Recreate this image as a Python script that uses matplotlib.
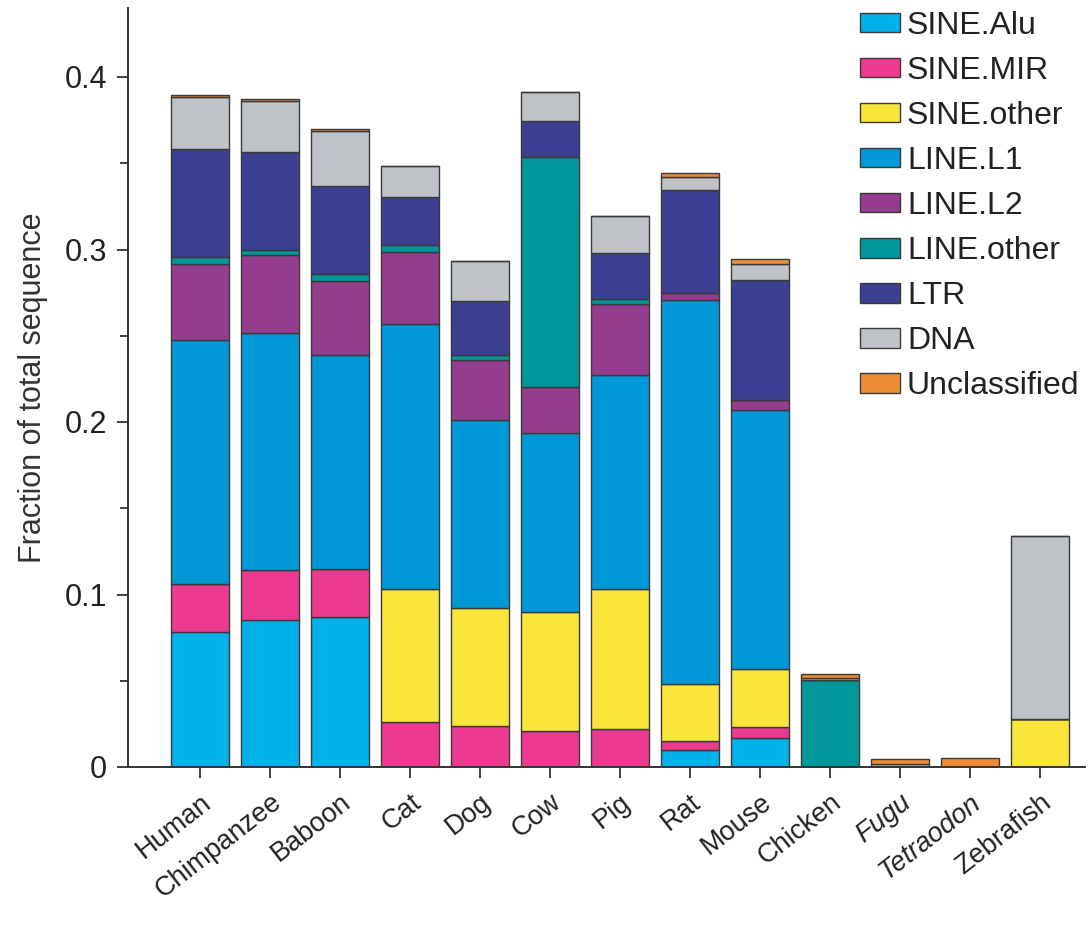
import matplotlib
matplotlib.use("Agg")
import matplotlib.pyplot as plt
from matplotlib.ticker import MultipleLocator
import numpy as np

plt.rcParams['font.family'] = ['Liberation Sans', 'DejaVu Sans']

# Species and repeat classes
species = ['Human', 'Chimpanzee', 'Baboon', 'Cat', 'Dog', 'Cow', 'Pig', 'Rat',
           'Mouse', 'Chicken', 'Fugu', 'Tetraodon', 'Zebrafish']
italic_species = ['Fugu', 'Tetraodon']

classes = ['SINE.Alu', 'SINE.MIR', 'SINE.other', 'LINE.L1', 'LINE.L2',
           'LINE.other', 'LTR', 'DNA', 'Unclassified']

# fraction of total sequence, one list per repeat class (order = species)
sine_alu   = [0.078, 0.085, 0.087, 0.0,   0.0,   0.0,   0.0,   0.010, 0.017, 0.0,   0.0,   0.0,   0.0]
sine_mir   = [0.028, 0.029, 0.028, 0.026, 0.024, 0.021, 0.022, 0.005, 0.006, 0.0,   0.0,   0.0,   0.0]
sine_other = [0.0,   0.0,   0.0,   0.077, 0.068, 0.069, 0.081, 0.033, 0.034, 0.0,   0.0,   0.0,   0.028]
line_l1    = [0.1415, 0.1376, 0.1236, 0.1536, 0.109, 0.1034, 0.1242, 0.223, 0.150, 0.0,  0.0,   0.0,   0.0]
line_l2    = [0.044, 0.045, 0.043, 0.042, 0.035, 0.027, 0.041, 0.004, 0.006, 0.0,   0.0,   0.0,   0.0]
line_other = [0.004, 0.0033, 0.004, 0.004, 0.0031, 0.1334, 0.003, 0.0,  0.0,   0.0505, 0.0,  0.0,   0.0]
ltr        = [0.063, 0.0566, 0.051, 0.028, 0.031, 0.0209, 0.027, 0.0593, 0.0691, 0.0,  0.0,   0.0,   0.0]
dna        = [0.030, 0.0296, 0.032, 0.018, 0.0232, 0.0164, 0.021, 0.0077, 0.0093, 0.001, 0.002, 0.0, 0.106]
unclass    = [0.001, 0.001, 0.001, 0.0,   0.0,   0.0,   0.0,   0.0025, 0.0033, 0.0025, 0.0025, 0.005, 0.0]

series = [sine_alu, sine_mir, sine_other, line_l1, line_l2, line_other, ltr, dna, unclass]
colors = ['#00B2EA', '#EC3A8E', '#FAE53A', '#0098D6', '#943C8E',
          '#00979A', '#3C3F92', '#BFC2C7', '#EE8C36']

fig = plt.figure(figsize=(10.89, 9.25), dpi=100)
ax = fig.add_axes([128 / 1089, 158 / 925, (1085 - 128) / 1089, (767 - 8) / 925])

x = np.arange(len(species))
bottom = np.zeros(len(species))
for name, vals, col in zip(classes, series, colors):
    vals = np.array(vals)
    ax.bar(x, vals, width=0.82, bottom=bottom, color=col, edgecolor='#3a3a3a',
           linewidth=1.0, label=name)
    bottom += vals

ax.set_xlim(-1.03, 12.64)
ax.set_ylim(0, 0.44)
ax.yaxis.set_minor_locator(MultipleLocator(0.05))
ax.set_yticks([0, 0.1, 0.2, 0.3, 0.4])
ax.set_yticklabels(['0', '0.1', '0.2', '0.3', '0.4'])

ax.set_xticks(x)
ax.set_xticklabels(species, rotation=38, ha='right', rotation_mode='anchor')

ax.tick_params(axis='both', which='major', direction='out', length=8, width=1.3,
               color='#333333', labelcolor='#222222')
ax.tick_params(axis='y', which='major', labelsize=22, pad=7)
ax.tick_params(axis='x', which='major', labelsize=19.5, pad=8)
ax.tick_params(axis='y', which='minor', direction='out', length=6, width=1.3,
               color='#333333')

# species names of the two pufferfish are set in italics
for name, lbl in zip(species, ax.get_xticklabels()):
    lbl.set_fontstyle('italic' if name in italic_species else 'normal')

for side in ['top', 'right']:
    ax.spines[side].set_visible(False)
for side in ['left', 'bottom']:
    ax.spines[side].set_linewidth(1.4)
    ax.spines[side].set_color('#333333')

ax.set_ylabel('Fraction of total sequence', fontsize=22, labelpad=12, color='#333333')

leg = fig.legend(loc='upper left', bbox_to_anchor=(860 / 1089, 1 - 11 / 925),
                 frameon=False, fontsize=23, handlelength=1.25, handleheight=0.56,
                 handletextpad=0.22, labelspacing=0.47, borderpad=0, borderaxespad=0)
for t in leg.get_texts():
    t.set_color('#222222')

fig.savefig('out.png', dpi=100)
